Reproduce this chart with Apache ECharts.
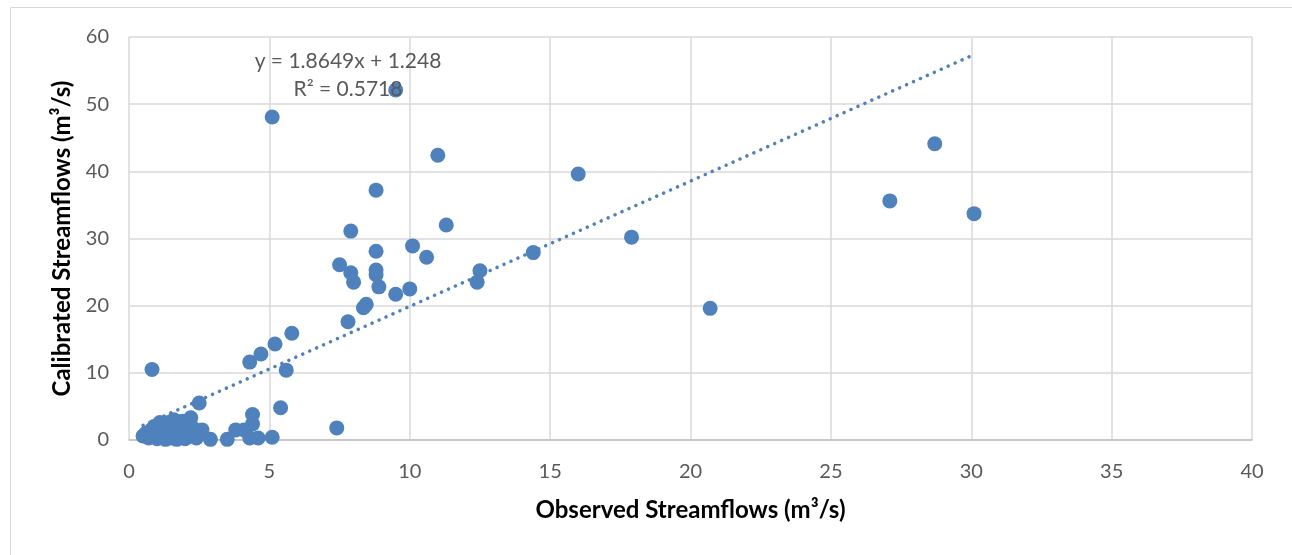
<!DOCTYPE html>
<html>
<head>
<meta charset="utf-8">
<script src="https://cdn.jsdelivr.net/npm/echarts@6/dist/echarts.min.js"></script>
<style>
  html, body { margin: 0; padding: 0; background: #fff; }
  #chart { width: 1292px; height: 555px; }
</style>
</head>
<body>
<div id="chart"></div>
<script>
// observed (x) vs calibrated (y) streamflows
const observed = [
  0.5, 0.6, 0.7, 0.8, 0.9, 1.0, 1.0, 1.1, 1.2, 1.2, 1.3, 1.3, 1.4, 1.4, 1.5, 1.5, 1.6, 1.6,
  1.7, 1.7, 1.8, 1.8, 1.9, 2.0, 2.0, 2.1, 2.2, 2.2, 2.3, 2.4, 1.1, 0.9, 1.9,
  0.82, 2.5, 2.6, 2.9, 3.5, 3.8, 4.1, 4.3, 4.4, 4.4, 4.6, 5.1, 5.4,
  4.3, 4.7, 5.2, 5.8, 5.6, 7.4,
  5.1, 9.5, 11.0, 8.8, 16.0, 7.9, 11.3, 8.8, 10.1, 7.5, 7.9, 8.0, 8.8, 8.8, 10.6,
  8.9, 9.5, 10.0, 8.35, 8.45, 7.8, 12.5, 12.4, 14.4, 17.9, 20.7, 27.1, 28.7, 30.1
];
const calibrated = [
  0.6, 1.0, 0.3, 1.5, 0.8, 1.9, 0.2, 1.2, 0.5, 2.2, 1.6, 0.1, 2.6, 0.9, 1.9, 0.3, 3.0, 1.2,
  0.1, 2.2, 1.5, 0.5, 0.9, 2.0, 0.2, 1.3, 3.3, 0.6, 1.7, 0.3, 2.6, 2.0, 2.8,
  10.5, 5.5, 1.5, 0.1, 0.1, 1.5, 1.5, 0.3, 3.8, 2.4, 0.3, 0.4, 4.8,
  11.6, 12.8, 14.3, 15.9, 10.4, 1.8,
  48.1, 52.1, 42.4, 37.2, 39.6, 31.1, 32.0, 28.1, 28.9, 26.1, 24.9, 23.5, 25.3, 24.6, 27.2,
  22.8, 21.7, 22.5, 19.7, 20.2, 17.6, 25.2, 23.5, 27.9, 30.2, 19.6, 35.6, 44.1, 33.7
];
const xTicks = [0, 5, 10, 15, 20, 25, 30, 35, 40];
const yTicks = [0, 10, 20, 30, 40, 50, 60];
const trendSlope = 1.8649;
const trendIntercept = 1.248;
const trendLabel = ['y = 1.8649x + 1.248', 'R² = 0.5718'];
const trendLabelAt = [7.8, 54.3];

const points = observed.map((x, i) => [x, calibrated[i]]);
const xMin = Math.min(...observed), xMax = Math.max(...observed);
const trend = [xMin, xMax].map(x => [x, trendSlope * x + trendIntercept]);

const blue = '#4f81bd';
const font = 'Lato, "Open Sans", sans-serif';

const chart = echarts.init(document.getElementById('chart'));
chart.setOption({
  animation: false,
  backgroundColor: '#fff',
  grid: { left: 129, right: 40, top: 37, bottom: 115 },
  graphic: [{
    type: 'rect', silent: true, z: -1,
    shape: { x: 10.5, y: 7.5, width: 1300, height: 600 },
    style: { fill: 'none', stroke: '#d9d9d9', lineWidth: 1 }
  }],
  xAxis: {
    type: 'value', min: xTicks[0], max: xTicks[xTicks.length - 1], interval: 5,
    name: 'Observed Streamflows (m³/s)', nameLocation: 'middle', nameGap: 58,
    nameTextStyle: { fontFamily: font, fontSize: 24, fontWeight: 'bold', color: '#000' },
    axisLine: { show: true, lineStyle: { color: '#bfbfbf', width: 1.5 } },
    axisTick: { show: false },
    axisLabel: { fontFamily: font, fontSize: 20, color: '#595959', margin: 22 },
    splitLine: { lineStyle: { color: '#d9d9d9', width: 1.5 } }
  },
  yAxis: {
    type: 'value', min: yTicks[0], max: yTicks[yTicks.length - 1], interval: 10,
    name: 'Calibrated Streamflows (m³/s)', nameLocation: 'middle', nameGap: 55,
    nameTextStyle: { fontFamily: font, fontSize: 24, fontWeight: 'bold', color: '#000' },
    axisLine: { show: false },
    axisTick: { show: false },
    axisLabel: { fontFamily: font, fontSize: 20, color: '#595959', margin: 20 },
    splitLine: { lineStyle: { color: '#d9d9d9', width: 1.5 } }
  },
  series: [
    {
      type: 'line', data: trend, showSymbol: false, z: 2,
      lineStyle: { color: blue, width: 3.5, type: [0.1, 7.5], cap: 'round' },
      markPoint: {
        symbol: 'circle', symbolSize: 1, itemStyle: { color: 'rgba(0,0,0,0)' },
        data: [{ coord: trendLabelAt }],
        label: {
          show: true, position: 'inside', formatter: trendLabel.join('\n'),
          fontFamily: font, fontSize: 21, color: '#595959',
          lineHeight: 28, align: 'center', verticalAlign: 'middle'
        }
      }
    },
    {
      type: 'scatter', data: points, symbolSize: 15, z: 3,
      itemStyle: { color: blue, opacity: 1 }
    }
  ]
});
</script>
</body>
</html>
